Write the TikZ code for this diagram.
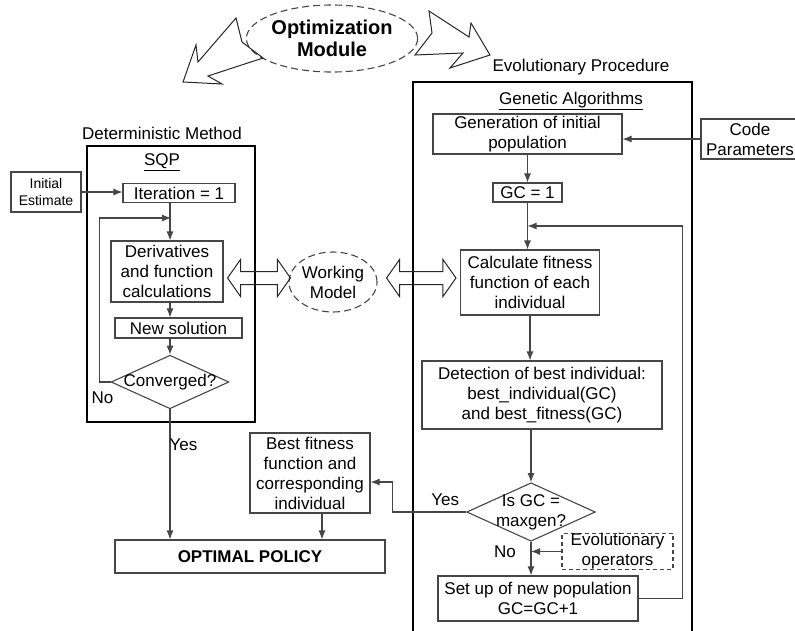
\documentclass[tikz,border=0pt]{standalone}
\usepackage{fontspec}
\setmainfont{Liberation Sans}
\usetikzlibrary{shapes.geometric, arrows.meta, positioning, calc}
\definecolor{FlowGray}{RGB}{70,70,70}
\newcommand{\flowfont}{\fontsize{17}{20}\selectfont}
\newcommand{\smallflowfont}{\fontsize{14}{17}\selectfont}
% wide two-headed arrow between two coordinates on one row
\newcommand{\fatlink}[2]{%
  \draw[fatline] (#1) -- ++(13,-18.5) -- ++(0,12) -- ($(#2)+(-13,-6.5)$) -- ++(0,-12)
    -- (#2) -- ++(-13,18.5) -- ++(0,-12) -- ($(#1)+(13,6.5)$) -- ++(0,12) -- cycle;}

\tikzset{
  stepbox/.style={draw=FlowGray, line width=1.1pt, inner sep=0pt, align=center, font=\flowfont},
  decision/.style={draw=FlowGray, line width=1.1pt, diamond, aspect=2.2, inner sep=-1.5pt, align=center, font=\flowfont},
  dashedoval/.style={draw=FlowGray, line width=1.1pt, dash pattern=on 7pt off 4pt, ellipse, inner sep=0pt, align=center},
  methodframe/.style={draw=black, line width=1.5pt},
  flow/.style={draw=FlowGray, line width=1.1pt, -{Latex[length=9pt,width=7pt]}},
  fatline/.style={draw=black!85, line width=1pt, line join=miter},
  tag/.style={font=\flowfont, inner sep=0pt, align=center},
}

\begin{document}
\begin{tikzpicture}[x=1pt, y=-1pt]
\useasboundingbox (0,0) rectangle (795,630);

% optimisation module with its two branches
\node[dashedoval, minimum width=140pt, minimum height=67pt, font=\fontsize{20}{22}\selectfont\bfseries] (optmod) at (332,38.5) {Optimization\\Module};
\draw[fatline] (236,18) -- (242,42) -- (263,58) -- (208,76) -- (222,84) -- (183,82) -- (196,45) -- (198,62) -- cycle;
\draw[fatline] (429,11) -- (432,33) -- (415,55) -- (463,53) -- (450,68) -- (490,55) -- (471,23) -- (469,37) -- cycle;

\node[tag] (detlabel) at (162,133) {Deterministic Method};
\node[tag] (evolabel) at (581,67) {Evolutionary Procedure};

% the two method frames
\draw[methodframe] (87,146) rectangle (255,422);
\draw[methodframe] (413,634) -- (413,82) -- (692,82) -- (692,634);
\node[tag] (sqp) at (162,162) {\underline{SQP}};
\node[tag] (ga) at (571,101) {\underline{Genetic Algorithms}};

% SQP loop
\node[stepbox, minimum width=70pt, minimum height=40pt, font=\smallflowfont] (init) at (46,192) {Initial\\Estimate};
\node[stepbox, minimum width=112pt, minimum height=19pt] (iter) at (179,193) {Iteration = 1};
\node[stepbox, minimum width=112pt, minimum height=61pt] (deriv) at (167,271.5) {Derivatives\\and function\\calculations};
\node[stepbox, minimum width=127pt, minimum height=20pt] (newsol) at (178.5,328) {New solution};
\node[decision] (conv) at (170,382) {Converged?};
\coordinate (sqpin) at (171,218);

% GA loop
\node[stepbox, minimum width=189pt, minimum height=40pt] (gen) at (527.5,134) {Generation of initial\\population};
\node[stepbox, minimum width=98pt, minimum height=40pt] (code) at (750,139) {Code\\Parameters};
\node[stepbox, minimum width=69pt, minimum height=19pt] (gcone) at (527.5,192.5) {GC = 1};
\coordinate (gain) at (527.5,226);
\node[stepbox, minimum width=139pt, minimum height=65pt] (fit) at (530,282.5) {Calculate fitness\\function of each\\individual};
\node[stepbox, minimum width=240pt, minimum height=68pt] (best) at (542,395) {Detection of best individual:\\best\_individual(GC)\\and best\_fitness(GC)};
\node[decision, inner sep=-3pt] (maxgen) at (531,512) {Is GC =\\maxgen?};
\node[stepbox, dash pattern=on 4pt off 3pt, minimum width=111pt, minimum height=33pt] (evop) at (617.5,551.5) {Evolutionary\\operators};
\node[stepbox, minimum width=200pt, minimum height=45pt] (newpop) at (538,598.5) {Set up of new population\\GC=GC+1};

% shared model and results
\node[dashedoval, minimum width=88pt, minimum height=60pt, font=\flowfont] (model) at (333,282) {Working\\Model};
\node[stepbox, minimum width=120pt, minimum height=80pt] (bestfit) at (310,473) {Best fitness\\function and\\corresponding\\individual};
\node[stepbox, minimum width=270pt, minimum height=33pt, font=\flowfont\bfseries] (policy) at (250,556.5) {OPTIMAL POLICY};

% SQP connectors
\draw[flow] (init.east) -- (init.east -| iter.west);
\draw[flow] (iter.south -| conv) -- (deriv.north -| conv);
\draw[flow] (deriv.south -| conv) -- (newsol.north -| conv);
\draw[flow] (newsol.south -| conv) -- (conv.north);
\draw[flow] (conv.west) -- ++(-11,0) |- (sqpin);
\draw[flow] (conv.south) -- (conv.south |- policy.north) node[tag, pos=0.27, anchor=west, xshift=-1pt] (yessqp) {Yes};
\node[tag] (nosqp) at ($(conv.west)+(-8,16)$) {No};

% GA connectors
\draw[flow] (gen.south) -- (gcone.north);
\draw[flow] (code.west) -- (code.west -| gen.east);
\draw[flow] (gcone.south) -- (gcone.south |- fit.north);
\draw[flow] (fit.south) -- (fit.south |- best.north);
\draw[flow] (best.south -| maxgen) -- (maxgen.north);
\draw[flow] (maxgen.south) -- (newpop.north -| maxgen);
\draw[flow] (evop.west) -- (evop.west -| maxgen);
\draw[flow] (newpop.east) -- ++(44,0) |- (gain);
\draw[flow] (maxgen.west) -- ++(-74,0) |- ($(bestfit.east)+(0,9)$);
\node[tag] (yesga) at ($(maxgen.west)+(-21,-12)$) {Yes};
\node[tag] (noga) at ($(maxgen.south)+(-26,10)$) {No};
\coordinate (bestout) at ($(bestfit.south)+(12,0)$);
\draw[flow] (bestout) -- (bestout |- policy.north);

% links to the working model
\coordinate (dl) at ($(deriv.east)+(4,6.5)$);
\coordinate (dr) at ($(model.west)+(2,-4)$);
\coordinate (fl) at ($(model.east)+(9,-4)$);
\coordinate (fr) at ($(fit.west)+(-4,-4.5)$);
\fatlink{dl}{dr}
\fatlink{fl}{fr}
\end{tikzpicture}
\end{document}
